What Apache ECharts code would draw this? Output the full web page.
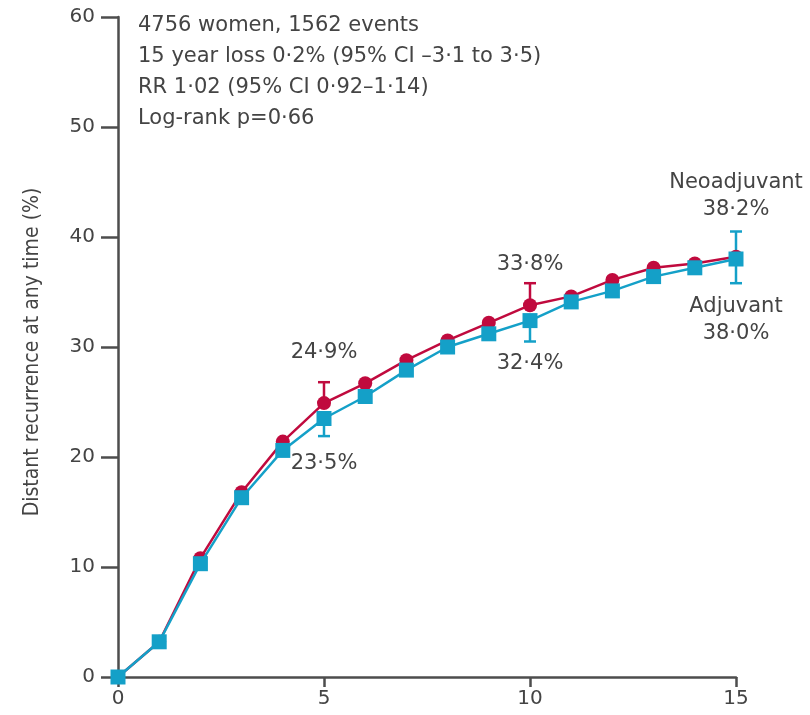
<!DOCTYPE html>
<html>
<head>
<meta charset="utf-8">
<script src="https://cdn.jsdelivr.net/npm/echarts@6/dist/echarts.min.js"></script>
<style>
  html, body { margin: 0; padding: 0; background: #fff; }
  #chart { width: 810px; height: 715px; }
</style>
</head>
<body>
<div id="chart"></div>
<script>
// years of follow-up
const years = [0, 1, 2, 3, 4, 5, 6, 7, 8, 9, 10, 11, 12, 13, 14, 15]
// cumulative distant recurrence (%)
const neoadjuvant = [0, 3.2, 10.8, 16.8, 21.4, 24.9, 26.7, 28.8, 30.6, 32.2, 33.8, 34.6, 36.1, 37.2, 37.6, 38.2]
const adjuvant = [0, 3.2, 10.3, 16.3, 20.6, 23.5, 25.5, 27.9, 30.0, 31.2, 32.4, 34.1, 35.1, 36.4, 37.2, 38.0]
// confidence bars: [year, low, high]
const neoadjuvantCI = [[5, 24.9, 26.8], [10, 33.8, 35.8]]
const adjuvantCI = [[5, 21.9, 23.5], [10, 30.5, 32.4], [15, 35.8, 40.5]]
// annotated points (index -> text)
const neoadjuvantNotes = { 5: '24·9%', 10: '33·8%', 15: 'Neoadjuvant\n38·2%' }
const adjuvantNotes = { 5: '23·5%', 10: '32·4%', 15: 'Adjuvant\n38·0%' }
const infoLines = [
  '4756 women, 1562 events',
  '15 year loss 0·2% (95% CI –3·1 to 3·5)',
  'RR 1·02 (95% CI 0·92–1·14)',
  'Log-rank p=0·66'
]
const yTicks = [0, 10, 20, 30, 40, 50, 60]
const xTicks = [0, 5, 10, 15]

const RED = '#c00a3e'
const BLUE = '#14a0c8'
const AXIS = '#4d4d4d'
const TEXT = '#444444'
const labelFont = 'DejaVu Sans'

// gap between a marker and its note, per year
const noteGap = { 5: [30, 24], 10: [20, 22], 15: [27, 27] }

const buildData = (values, notes, above) => values.map((v, i) => {
  const item = { value: [years[i], v] }
  if (notes[i]) {
    item.label = {
      show: true,
      formatter: notes[i],
      position: above ? 'top' : 'bottom',
      distance: noteGap[years[i]][above ? 0 : 1],
      color: TEXT,
      fontFamily: labelFont,
      fontSize: 21,
      lineHeight: 27,
      align: 'center'
    }
  }
  return item
})

const errorSeries = (ci, color) => ({
  type: 'custom',
  z: 1,
  silent: true,
  data: ci,
  renderItem: (params, api) => {
    const lo = api.coord([api.value(0), api.value(1)])
    const hi = api.coord([api.value(0), api.value(2)])
    const w = 6
    const style = { stroke: color, lineWidth: 2.5 }
    return {
      type: 'group',
      children: [
        { type: 'line', shape: { x1: lo[0], y1: lo[1], x2: hi[0], y2: hi[1] }, style },
        { type: 'line', shape: { x1: lo[0] - w, y1: lo[1], x2: lo[0] + w, y2: lo[1] }, style },
        { type: 'line', shape: { x1: hi[0] - w, y1: hi[1], x2: hi[0] + w, y2: hi[1] }, style }
      ]
    }
  }
})

const chart = echarts.init(document.getElementById('chart'))

const option = {
  animation: false,
  backgroundColor: '#fff',
  title: {
    text: infoLines.join('\n'),
    left: 133,
    top: 5,
    textStyle: {
      color: TEXT,
      fontFamily: labelFont,
      fontWeight: 'normal',
      fontSize: 21,
      lineHeight: 31
    }
  },
  grid: {
    left: 118,
    right: 74,
    top: 17,
    bottom: 38,
    outerBoundsMode: 'none'
  },
  xAxis: {
    type: 'value',
    min: 0,
    max: 15,
    interval: 5,
    splitLine: { show: false },
    axisLine: { show: true, lineStyle: { color: AXIS, width: 2.5 } },
    axisTick: { show: true, length: 10, lineStyle: { color: AXIS, width: 2.5 } },
    axisLabel: {
      color: TEXT,
      fontFamily: labelFont,
      fontSize: 20,
      margin: 12,
      formatter: v => (xTicks.indexOf(v) >= 0 ? String(v) : '')
    }
  },
  yAxis: {
    type: 'value',
    min: 0,
    max: 60,
    interval: 10,
    name: 'Distant recurrence at any time (%)',
    nameLocation: 'middle',
    nameGap: 75,
    nameTextStyle: {
      color: TEXT,
      fontFamily: 'DejaVu Sans Condensed',
      fontSize: 21,
      padding: [0, 10, 0, 0]
    },
    splitLine: { show: false },
    axisLine: { show: true, lineStyle: { color: AXIS, width: 2.5 } },
    axisTick: { show: true, length: 17, lineStyle: { color: AXIS, width: 2.5 } },
    axisLabel: {
      color: TEXT,
      fontFamily: labelFont,
      fontSize: 20,
      margin: 23,
      formatter: v => (yTicks.indexOf(v) >= 0 ? String(v) : '')
    }
  },
  series: [
    errorSeries(neoadjuvantCI, RED),
    errorSeries(adjuvantCI, BLUE),
    {
      name: 'Neoadjuvant',
      type: 'line',
      z: 2,
      clip: false,
      symbol: 'circle',
      symbolSize: 14,
      showAllSymbol: true,
      lineStyle: { color: RED, width: 2.5 },
      itemStyle: { color: RED },
      emphasis: { disabled: true },
      data: buildData(neoadjuvant, neoadjuvantNotes, true)
    },
    {
      name: 'Adjuvant',
      type: 'line',
      z: 3,
      clip: false,
      symbol: 'rect',
      symbolSize: 15,
      showAllSymbol: true,
      lineStyle: { color: BLUE, width: 2.5 },
      itemStyle: { color: BLUE },
      emphasis: { disabled: true },
      data: buildData(adjuvant, adjuvantNotes, false)
    }
  ]
}

chart.setOption(option)
window.addEventListener('resize', () => chart.resize())
</script>
</body>
</html>
